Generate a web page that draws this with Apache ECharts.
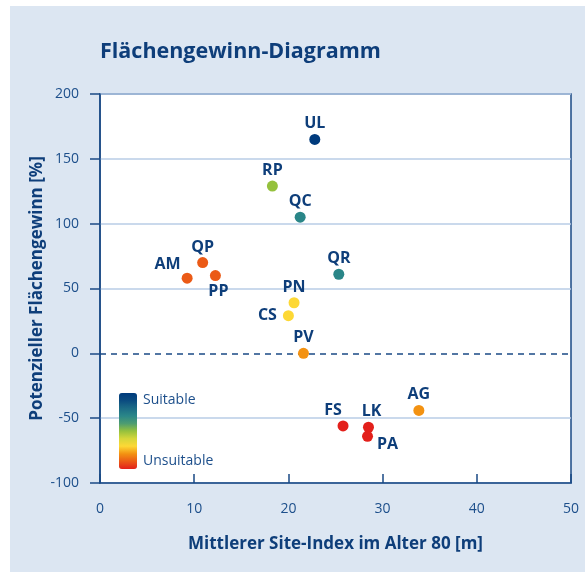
<!DOCTYPE html>
<html><head><meta charset="utf-8">
<script src="https://cdn.jsdelivr.net/npm/echarts@6/dist/echarts.min.js"></script>
<style>
html,body{margin:0;padding:0;background:#fff;}
#bg{position:absolute;left:10px;top:6px;width:575px;height:566px;background:#dce6f2;}
#c{position:absolute;left:0;top:0;width:585px;height:577px;}
</style></head>
<body>
<div id="bg"></div>
<div id="c"></div>
<script>
// Data
const names = ['UL','RP','QC','QP','AM','PP','QR','PN','CS','PV','AG','FS','LK','PA'];
const siteIndex = [22.8, 18.3, 21.25, 10.9, 9.25, 12.25, 25.35, 20.6, 20.0, 21.6, 33.85, 25.8, 28.5, 28.4];
const flaechengewinn = [165, 129, 105, 70, 58, 60, 61, 39, 29, 0, -44, -56, -57, -64];
// suitability score (0 = unsuitable, 1 = suitable)
const suitability = [1.0, 0.5, 0.7, 0.1, 0.1, 0.1, 0.7, 0.3, 0.3, 0.2, 0.2, 0.0, 0.0, 0.0];
const xTicks = [0, 10, 20, 30, 40, 50];
const yTicks = [-100, -50, 0, 50, 100, 150, 200];

const labelPlace = {
  AM: {position: 'left', offset: [1, -14]},
  PP: {position: 'bottom', offset: [3, 0]},
  CS: {position: 'left', distance: 6},
  PA: {position: 'right', offset: [2, 8]},
  FS: {position: 'top', offset: [-10, 0]},
  LK: {position: 'top', offset: [3, 0]}
};

const dark = '#1a4a85';
const textDark = '#0e3e7a';
const tickColor = '#1d4f8b';
const font = "'Open Sans', 'Noto Sans', sans-serif";

const data = names.map((n, i) => {
  const lp = labelPlace[n] || {position: 'top'};
  return {
    name: n,
    value: [siteIndex[i], flaechengewinn[i], suitability[i]],
    label: Object.assign({show: true, formatter: n, distance: 2}, lp)
  };
});

const chart = echarts.init(document.getElementById('c'), null, {renderer: 'canvas'});
chart.setOption({
  animation: false,
  backgroundColor: 'transparent',
  textStyle: {fontFamily: font},
  title: {
    text: 'Flächengewinn-Diagramm',
    left: 100, top: 41, padding: 0,
    textStyle: {fontFamily: font, fontWeight: 'bold', fontSize: 21.5, color: textDark}
  },
  grid: {
    left: 100, right: 14, top: 94, bottom: 94,
    show: true, backgroundColor: '#ffffff', borderColor: dark, borderWidth: 1.5
  },
  xAxis: {
    type: 'value', min: xTicks[0], max: xTicks[xTicks.length - 1], interval: 10,
    name: 'Mittlerer Site-Index im Alter 80 [m]', nameLocation: 'middle', nameGap: 53,
    nameMoveOverlap: false,
    nameTextStyle: {fontFamily: font, fontWeight: 'bold', fontSize: 17, color: textDark},
    axisLine: {show: true, onZero: false, lineStyle: {color: dark, width: 1.5}},
    axisTick: {show: true, inside: true, length: 9, lineStyle: {color: dark, width: 1.5}},
    axisLabel: {margin: 19, fontSize: 14, color: tickColor, fontFamily: font},
    splitLine: {show: false}
  },
  yAxis: {
    type: 'value', min: yTicks[0], max: yTicks[yTicks.length - 1], interval: 50,
    name: 'Potenzieller Flächengewinn [%]', nameLocation: 'middle', nameGap: 54,
    nameMoveOverlap: false,
    nameTextStyle: {fontFamily: font, fontWeight: 'bold', fontSize: 17, color: textDark},
    axisLine: {show: true, onZero: false, lineStyle: {color: dark, width: 1.5}},
    axisTick: {show: true, inside: false, length: 10, lineStyle: {color: dark, width: 1.5}},
    axisLabel: {margin: 21, fontSize: 14, color: tickColor, fontFamily: font},
    splitLine: {show: true, lineStyle: {
      color: ['#b8cde6', '#b8cde6', 'rgba(0,0,0,0)', '#b8cde6', '#b8cde6', '#b8cde6', '#b8cde6'],
      width: 1.5}}
  },
  visualMap: {
    type: 'continuous', min: 0, max: 1, dimension: 2, seriesIndex: 0,
    calculable: false, orient: 'vertical',
    left: 119, top: 393, padding: 0,
    itemWidth: 18, itemHeight: 76,
    text: null, showLabel: false,
    inRange: {
      color: ['#e3201b', '#eb5a16', '#f39212', '#fdd835', '#d5d63a', '#95c13d',
              '#4c9c72', '#2a8688', '#1c6b86', '#0b4c80', '#003b7d'],
      opacity: 1
    }
  },
  graphic: [
    {type: 'text', left: 143, top: 393, z: 100,
     style: {text: 'Suitable', fontFamily: font, fontSize: 14, fill: tickColor}},
    {type: 'text', left: 143, top: 454, z: 100,
     style: {text: 'Unsuitable', fontFamily: font, fontSize: 14, fill: tickColor}}
  ],
  series: [{
    type: 'scatter',
    symbolSize: 11,
    itemStyle: {opacity: 1},
    data: data,
    label: {fontFamily: font, fontWeight: 'bold', fontSize: 16, color: textDark},
    markLine: {
      silent: true, symbol: 'none', label: {show: false},
      lineStyle: {color: dark, type: [6, 5], width: 1.5},
      data: [{yAxis: 0}]
    },
    z: 5
  }]
});
</script>
</body></html>
